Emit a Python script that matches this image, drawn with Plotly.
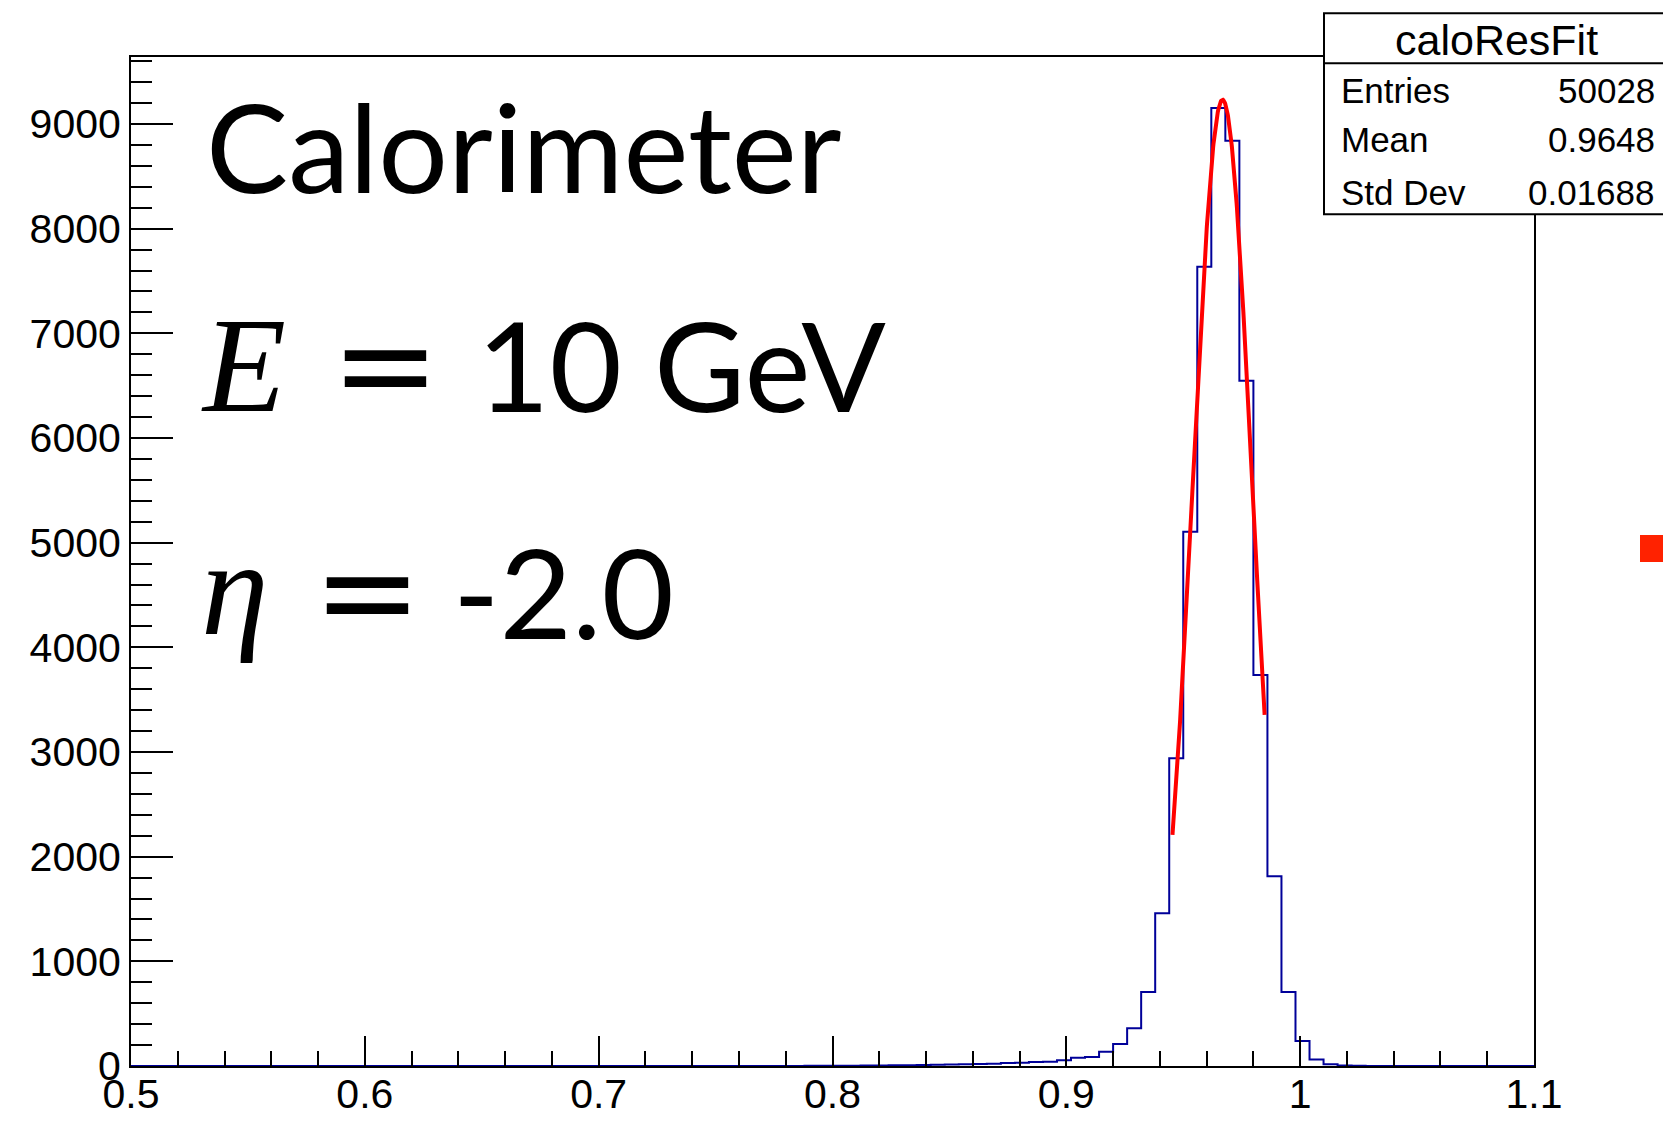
import numpy as np
import plotly.graph_objects as go

# ---------------- data ----------------
n_bins = 100
x_min, x_max = 0.5, 1.1
counts = [
    0, 0, 0, 0, 0, 0, 0, 0, 0, 0,
    0, 0, 0, 0, 0, 0, 0, 0, 0, 0,
    0, 0, 0, 0, 0, 0, 0, 0, 0, 0,
    0, 0, 0, 0, 0, 0, 0, 0, 0, 0,
    0, 0, 0, 1, 1, 1, 1, 1, 2, 2,
    3, 3, 4, 5, 6, 8, 10, 12, 15, 16,
    20, 22, 28, 30, 38, 40, 55, 78, 85, 137,
    210, 360, 707, 1460, 2940, 5105, 7636, 9153, 8840, 6548,
    3735, 1814, 707, 239, 61, 16, 5, 2, 1, 0,
    0, 0, 0, 0, 0, 0, 0, 0, 0, 0,
]
y_max = 9640

# Gaussian fit parameters (as drawn)
fit_amp = 9232
fit_mean = 0.9668
fit_sigma = 0.01265
fit_lo, fit_hi = 0.9454, 0.9848

stats_title = "caloResFit"
stats_labels = ["Entries", "Mean", "Std Dev"]
stats_values = ["50028", "0.9648", "0.01688"]

# ---------------- derived ----------------
edges = np.linspace(x_min, x_max, n_bins + 1)
hx = list(edges)
hy = list(counts) + [counts[-1]]

xf = np.linspace(fit_lo, fit_hi, 300)
yf = fit_amp * np.exp(-0.5 * ((xf - fit_mean) / fit_sigma) ** 2)

fig = go.Figure()
fig.add_trace(go.Scatter(x=hx, y=hy, mode="lines", line=dict(shape="hv", color="#000099", width=2),
                         hoverinfo="skip", showlegend=False))
fig.add_trace(go.Scatter(x=xf, y=yf, mode="lines", line=dict(color="#ff0000", width=4),
                         hoverinfo="skip", showlegend=False))

tick_font = dict(family="Liberation Sans, Arial, sans-serif", size=41, color="black")

fig.update_layout(
    template="none",
    width=1663, height=1124,
    margin=dict(l=131, r=129, t=57, b=58, pad=0, autoexpand=False),
    paper_bgcolor="white", plot_bgcolor="white",
    showlegend=False,
    xaxis=dict(range=[x_min, x_max], dtick=0.1, tick0=0.5, ticks="inside", ticklen=30, tickwidth=2,
               tickcolor="black", showline=True, linecolor="black", linewidth=2, mirror=True,
               showgrid=False, zeroline=False, tickfont=tick_font, automargin=False,
               ticklabelstandoff=-9,
               minor=dict(dtick=0.02, ticks="inside", ticklen=15, tickwidth=2, tickcolor="black", showgrid=False)),
    yaxis=dict(range=[0, y_max], dtick=1000, tick0=0, ticks="inside", ticklen=42, tickwidth=2,
               tickcolor="black", showline=True, linecolor="black", linewidth=2, mirror=True,
               showgrid=False, zeroline=False, tickfont=tick_font, tickformat="d", automargin=False,
               minor=dict(dtick=200, ticks="inside", ticklen=21, tickwidth=2, tickcolor="black", showgrid=False)),
)

# ---------------- big labels ----------------
sans_big = "Lato, 'Open Sans', sans-serif"
serif_it = "'Liberation Serif', 'DejaVu Serif', serif"
eq_font = "'DejaVu Sans', sans-serif"

def pxx(p):
    return (p - 131) / 1403.0

def pxy(p):
    return (1066.0 - p) / 1009.0

def ann(text, x, y, size, family, xanchor="left", yanchor="middle"):
    fig.add_annotation(text=text, x=x, y=y, xref="paper", yref="paper", showarrow=False,
                       xanchor=xanchor, yanchor=yanchor, font=dict(family=family, size=size, color="black"),
                       borderpad=0)

ann("Calorimeter", pxx(205), pxy(145), 123, sans_big)
ann("<i>E</i>", pxx(200), pxy(365), 136, serif_it)
ann("=", pxx(330), pxy(364), 130, eq_font)
ann("10 GeV", pxx(476), pxy(364), 125, sans_big)
ann("<i>η</i>", pxx(200), pxy(588), 136, serif_it)
ann("=", pxx(312), pxy(591), 130, eq_font)
ann("-2.0", pxx(452), pxy(591), 125, sans_big)

# ---------------- stats box ----------------
bx0, bx1 = pxx(1324), 1.12
by_top, by_sep, by_bot = pxy(13.3), pxy(63.3), pxy(214.3)
fig.add_shape(type="rect", xref="paper", yref="paper", x0=bx0, x1=bx1, y0=by_bot, y1=by_top,
              fillcolor="white", line=dict(color="black", width=2), layer="above")
fig.add_shape(type="line", xref="paper", yref="paper", x0=bx0, x1=bx1, y0=by_sep, y1=by_sep,
              line=dict(color="black", width=2), layer="above")

stat_font = "Liberation Sans, Arial, sans-serif"
ann(stats_title, pxx(1496), pxy(40), 43, stat_font, xanchor="center")
row_y = [90, 140, 192]
for lab, val, ry in zip(stats_labels, stats_values, row_y):
    ann(lab, pxx(1340), pxy(ry), 35, stat_font, xanchor="left")
    ann(val, pxx(1656), pxy(ry), 35, stat_font, xanchor="right")

# red marker square at the right edge
fig.add_shape(type="rect", xref="paper", yref="paper", x0=pxx(1640), x1=1.12, y0=pxy(562), y1=pxy(535),
              fillcolor="#ff2200", line=dict(width=0), layer="above")

fig.write_html("out.html", config={"displayModeBar": False},
               post_script="document.body.style.margin='0';")
